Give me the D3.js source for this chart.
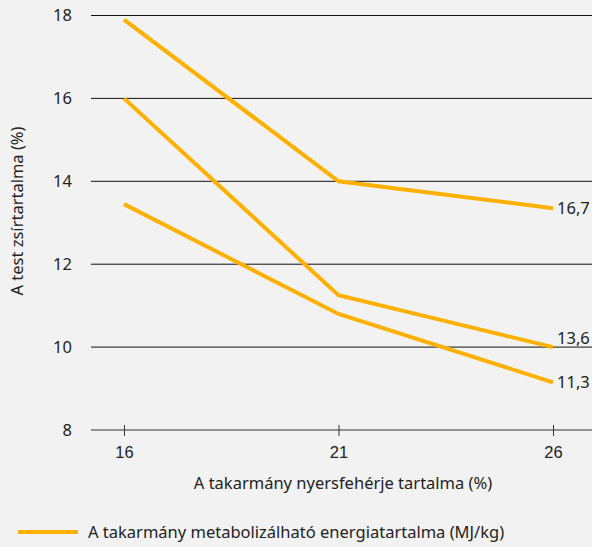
<!DOCTYPE html>
<html><head><meta charset="utf-8">
<script src="https://cdn.jsdelivr.net/npm/d3@7"></script>
<style>body{margin:0;background:#f2f2f2;} svg{display:block;font-family:"Noto Sans",sans-serif;}</style>
</head><body>
<script>
const protein = [16, 21, 26];
const seriesLabels = ["16,7", "13,6", "11,3"];
const series167 = [17.9, 14.0, 13.35];
const series136 = [16.0, 11.25, 10.0];
const series113 = [13.45, 10.8, 9.15];
const yTicks = [8, 10, 12, 14, 16, 18];
const xTitle = "A takarmány nyersfehérje tartalma (%)";
const yTitle = "A test zsírtartalma (%)";
const legendText = "A takarmány metabolizálható energiatartalma (MJ/kg)";

const W = 592, H = 547, color = "#ffb000", FS = 16.5;
const svg = d3.select("body").append("svg").attr("width", W).attr("height", H);
svg.append("rect").attr("width", W).attr("height", H).attr("fill", "#f2f2f2");

const x = d3.scaleLinear().domain([16, 26]).range([124, 553]);
const y = d3.scaleLinear().domain([8, 18]).range([430, 15.5]);

svg.append("g").selectAll("line").data(yTicks.filter(d => d > 8)).join("line")
  .attr("x1", 91).attr("x2", W).attr("y1", d => y(d)).attr("y2", d => y(d))
  .attr("stroke", "#111").attr("stroke-width", 1);

svg.append("g").selectAll("text").data(yTicks).join("text")
  .attr("x", 72).attr("y", d => y(d)).attr("dy", "0.35em").attr("text-anchor", "end")
  .attr("font-size", FS).attr("fill", "#222").text(d => d);

const xAxis = d3.axisBottom(x).tickValues(protein).tickSize(6).tickPadding(10).tickSizeOuter(0);
const gx = svg.append("g").attr("transform", `translate(0,${y(8)})`).call(xAxis);
gx.select(".domain").remove();
gx.append("line").attr("x1", 91).attr("x2", W).attr("stroke", "#333");
gx.selectAll(".tick line").attr("y1", -5).attr("y2", 6).attr("stroke", "#333");
gx.selectAll(".tick text").attr("font-size", FS).attr("fill", "#222").attr("font-family", null);

svg.append("text").attr("x", 343).attr("y", 483).attr("dy", "0.35em").attr("text-anchor", "middle")
  .attr("font-size", FS).attr("fill", "#222").text(xTitle);
svg.append("text").attr("transform", "translate(17,211) rotate(-90)").attr("dy", "0.35em")
  .attr("text-anchor", "middle").attr("font-size", FS).attr("fill", "#222").text(yTitle);

const all = [series167, series136, series113];
const line = d3.line().x((d, i) => x(protein[i])).y(d => y(d));
svg.append("g").selectAll("path").data(all).join("path")
  .attr("d", line).attr("fill", "none").attr("stroke", color).attr("stroke-width", 4);

const labelDy = [0, -9, 0];
svg.append("g").selectAll("text").data(all).join("text")
  .attr("x", x(26) + 4).attr("y", (d, i) => y(d[2]) + labelDy[i]).attr("dy", "0.35em")
  .attr("font-size", FS).attr("fill", "#222").text((d, i) => seriesLabels[i]);

svg.append("line").attr("x1", 18).attr("x2", 78).attr("y1", 532).attr("y2", 532)
  .attr("stroke", color).attr("stroke-width", 4);
svg.append("text").attr("x", 88).attr("y", 532).attr("dy", "0.35em")
  .attr("font-size", FS).attr("fill", "#222").text(legendText);
</script>
</body></html>
